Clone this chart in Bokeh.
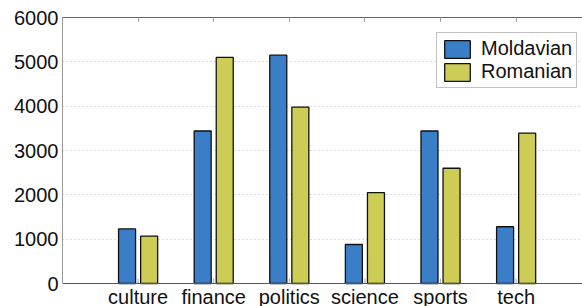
import math
from bokeh.plotting import figure
from bokeh.models import (ColumnDataSource, Range1d, FixedTicker, LinearAxis, Legend, LegendItem,
                          LabelSet, Span)
from bokeh.core.properties import value
from bokeh.transform import dodge
from bokeh.embed import file_html
from bokeh.resources import INLINE

categories = ["culture", "finance", "politics", "science", "sports", "tech"]
moldavian = [1230, 3440, 5150, 880, 3440, 1280]
romanian = [1070, 5100, 3980, 2050, 2600, 3390]
y_ticks = [0, 1000, 2000, 3000, 4000, 5000, 6000]

positions = list(range(1, len(categories) + 1))
src = ColumnDataSource(dict(x=positions, mold=moldavian, rom=romanian,
                            cat=categories, base=[0] * len(categories)))

FONT = "Liberation Sans"
W, H = 582, 306
FRAME_TOP, ZERO_Y = 17, 283          # pixel rows of y=6000 and y=0
Y_MAX = 6000
y_start = -Y_MAX * (H - ZERO_Y) / (ZERO_Y - FRAME_TOP)   # frame runs to the page bottom

p = figure(width=W, height=H, output_backend="svg", toolbar_location=None,
           x_range=Range1d(0, 6.878), y_range=Range1d(y_start, Y_MAX),
           x_axis_location=None,
           min_border_left=62, min_border_right=0, min_border_top=FRAME_TOP, min_border_bottom=0)
p.background_fill_color = "white"
p.border_fill_color = "white"
p.outline_line_color = None

r1 = p.vbar(x=dodge("x", -0.146, range=p.x_range), width=0.225, top="mold", bottom=0, source=src,
            fill_color="#3a7ec8", line_color="#111111", line_width=1.3)
r2 = p.vbar(x=dodge("x", 0.146, range=p.x_range), width=0.225, top="rom", bottom=0, source=src,
            fill_color="#cdcc55", line_color="#111111", line_width=1.3)

# bottom axis line at y = 0, with small inward ticks
p.add_layout(Span(location=0, dimension="width", line_color="#555555", line_width=1))
p.ray(x="x", y="base", length=5, length_units="screen", angle=math.pi / 2, source=src,
      line_color="#aaaaaa", line_width=1)

# category names below the axis
cat_labels = LabelSet(x="x", y="base", text="cat", source=src, y_offset=-20,
                      text_align="center", text_baseline="alphabetic",
                      text_font=value(FONT), text_font_size=value("20px"),
                      text_color=value("#111111"))
p.add_layout(cat_labels)

# y axis
ya = p.yaxis[0]
ya.ticker = FixedTicker(ticks=y_ticks)
ya.bounds = (0, Y_MAX)
ya.major_label_text_font = FONT
ya.major_label_text_font_size = "20px"
ya.major_label_text_color = "#111111"
ya.major_label_standoff = 4
ya.major_tick_in = 0
ya.major_tick_out = 0
ya.minor_tick_line_color = None
ya.axis_line_color = "#999999"

# top axis: frame line with inward ticks only
ta = LinearAxis(ticker=FixedTicker(ticks=positions),
                major_label_overrides={pos: "" for pos in positions},
                major_label_text_font_size="8px",
                major_tick_in=4, major_tick_out=0, major_tick_line_color="#999999",
                minor_tick_line_color=None, axis_line_color="#666666", major_label_standoff=0)
p.add_layout(ta, "above")

p.xgrid.grid_line_color = None
p.ygrid.ticker = FixedTicker(ticks=y_ticks[1:])
p.ygrid.grid_line_color = "#bbbbbb"
p.ygrid.grid_line_dash = "1 3"

legend = Legend(items=[LegendItem(label="Moldavian", renderers=[r1]),
                       LegendItem(label="Romanian", renderers=[r2])],
                location=(374, 218))
legend.label_text_font = FONT
legend.label_text_font_size = "20px"
legend.label_text_color = "#111111"
legend.glyph_width = 32
legend.glyph_height = 22
legend.label_height = 22
legend.spacing = 0
legend.padding = 4
legend.margin = 0
legend.label_standoff = 8
legend.border_line_color = "#888888"
legend.border_line_width = 1
legend.background_fill_alpha = 1
p.add_layout(legend, "center")

open("out.html", "w").write(file_html(p, INLINE))
